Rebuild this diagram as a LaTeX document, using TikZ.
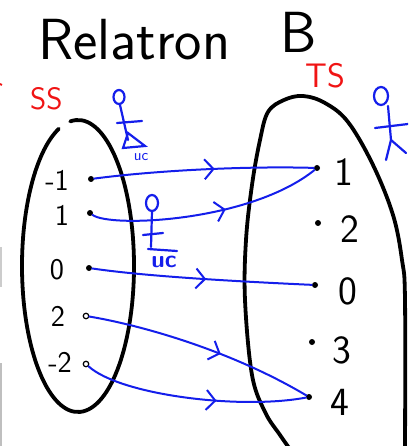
\documentclass[tikz,border=0pt]{standalone}
\usepackage{tikz}
\usetikzlibrary{arrows.meta, positioning, decorations.markings}
\definecolor{PenBlue}{RGB}{20,30,235}
\definecolor{PenRed}{RGB}{240,20,20}

\begin{document}
\begin{tikzpicture}[x=1pt, y=-1pt,
    setline/.style={line width=3.8pt, line cap=round},
    elem/.style={circle, fill=black, inner sep=0pt, minimum size=6pt},
    openelem/.style={circle, draw=black, line width=1.2pt, inner sep=0pt, minimum size=5.5pt},
    lnum/.style={font=\sffamily\fontsize{30}{32}\selectfont},
    rnum/.style={font=\sffamily\fontsize{40}{42}\selectfont},
    setname/.style={text=PenRed, anchor=base west, inner sep=0pt},
    doodle/.style={PenBlue, line width=2.2pt, line cap=round},
    uctext/.style={text=PenBlue, inner sep=0pt},
    maparrow/.style={PenBlue, line width=2pt, line cap=round, postaction={decorate},
        decoration={markings, mark=at position #1 with {\arrow{Straight Barb[length=9pt, width=20pt, line width=2pt]}}}},
    maparrow/.default=0.55]
    \useasboundingbox (0,0) rectangle (408,446);
    \clip (0,0) rectangle (408,446);

    % title
    \node[font=\sffamily\fontsize{58}{60}\selectfont, anchor=base west, inner sep=0pt] (title) at (38,60) {Relatron};
    \node[font=\sffamily\fontsize{58}{60}\selectfont, anchor=base west, inner sep=0pt] (titleB) at (280,53) {B};

    % set names
    \node[setname, font=\sffamily\fontsize{31}{33}\selectfont] (ss) at (30,110) {SS};
    \node[setname, font=\sffamily\fontsize{34}{36}\selectfont] (ts) at (305,88) {TS};

    % the two sets
    \draw[setline] (78,266) ++(262:56 and 146) arc[start angle=262, end angle=610, x radius=56, y radius=146];
    \draw[setline] plot[smooth, tension=0.6] coordinates {(292,452) (280,435) (265,412) (252,375) (245,300) (246,240) (252,185) (260,140) (268,112) (284,100) (303,96) (325,103) (348,122) (373,165) (393,215) (402,260) (405,300) (405,452)};

    % source elements
    \node[elem] (lm1) at (91,179) {};
    \node[elem] (l1) at (90,213) {};
    \node[elem] (l0) at (89,268) {};
    \node[openelem] (l2) at (86,316) {};
    \node[openelem] (lm2) at (86,364) {};
    \node[lnum] (lm1-lab) at (57,180) {-1};
    \node[lnum] (l1-lab) at (62,215) {1};
    \node[lnum] (l0-lab) at (57,270) {0};
    \node[lnum] (l2-lab) at (58,316) {2};
    \node[lnum] (lm2-lab) at (60,362) {-2};

    % target elements
    \node[elem] (r1) at (317,168) {};
    \node[elem] (r2) at (318,223) {};
    \node[elem] (r0) at (315,285) {};
    \node[elem] (r3) at (312,342) {};
    \node[elem] (r4) at (309,397) {};
    \node[rnum] (r1-lab) at (344,172) {1};
    \node[rnum] (r2-lab) at (350,229) {2};
    \node[rnum] (r0-lab) at (348,291) {0};
    \node[rnum] (r3-lab) at (342,350) {3};
    \node[rnum] (r4-lab) at (340,402) {4};

    % mapping
    \draw[maparrow=0.55] (lm1) .. controls (160,170) and (250,166) .. (r1);
    \draw[maparrow=0.58] (l1) .. controls (110,228) and (250,222) .. (r1);
    \draw[maparrow=0.52] (l0) .. controls (150,277) and (250,282) .. (r0);
    \draw[maparrow=0.59] (l2) .. controls (140,325) and (230,350) .. (r4);
    \draw[maparrow=0.6] (lm2) .. controls (120,395) and (240,410) .. (r4);

    % blue notes
    \draw[doodle] (119,97) ellipse [x radius=5.5, y radius=7];
    \draw[doodle] (120,105) -- (128,140);
    \draw[doodle] (117,123) -- (142,121);
    \draw[doodle] (128,133) -- (145,146) -- (123,148) -- cycle;
    \node[uctext, font=\sffamily\fontsize{16}{16}\selectfont] (uc1) at (141,157) {uc};

    \draw[doodle] (152,203) ellipse [x radius=6, y radius=8];
    \draw[doodle] (152,211) -- (151,247);
    \draw[doodle] (143,235) -- (163,233);
    \draw[doodle] (148,249) -- (177,251);
    \node[uctext, font=\sffamily\bfseries\fontsize{24}{24}\selectfont] (uc2) at (164,262) {uc};

    \draw[doodle] (381,96) ellipse [x radius=7, y radius=9];
    \draw[doodle] (388,106) -- (391,140);
    \draw[doodle] (375,128) -- (408,124);
    \draw[doodle] (391,140) -- (386,160);
    \draw[doodle] (391,140) -- (406,153);

    % cut-off strokes at the left edge
    \draw[PenRed, line width=2pt] (0,84) -- (2,85);
    \draw[gray!40, line width=1.5pt] (1,247) -- (1,287);
    \draw[gray!50, line width=1.5pt] (1,363) -- (1,446);
\end{tikzpicture}
\end{document}
